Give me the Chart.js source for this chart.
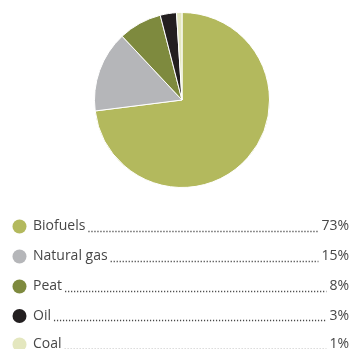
<!DOCTYPE html>
<html>
<head>
<meta charset="utf-8">
<script src="https://cdn.jsdelivr.net/npm/chart.js@4"></script>
<style>
  html, body { margin: 0; padding: 0; background: #fff; }
  #wrap { width: 350px; height: 349px; }
</style>
</head>
<body>
<div id="wrap"><canvas id="fuelChart" width="350" height="349"></canvas></div>
<script>
const labels = ['Biofuels', 'Natural gas', 'Peat', 'Oil', 'Coal'];
const shares = [73, 15, 8, 3, 1];
const colors = ['#b3b95d', '#b5b6b9', '#7e8a3e', '#231f20', '#e4e7bf'];

// list under the pie: dot, name, dotted leader, percentage
const listLegend = {
    id: 'listLegend',
    afterDraw(chart) {
        const ctx = chart.ctx;
        const rowY = [226.5, 256.5, 286.5, 316, 344.5];
        ctx.save();
        ctx.font = "14px 'Open Sans', sans-serif";
        ctx.textBaseline = 'middle';
        labels.forEach((name, i) => {
            const y = rowY[i];
            ctx.beginPath();
            ctx.arc(19.5, y, 7, 0, Math.PI * 2);
            ctx.fillStyle = colors[i];
            ctx.fill();

            ctx.fillStyle = '#474747';
            ctx.textAlign = 'left';
            ctx.fillText(name, 33, y);
            const nameEnd = 33 + ctx.measureText(name).width + 3;

            const pct = shares[i] + '%';
            ctx.textAlign = 'right';
            ctx.fillText(pct, 349, y);
            const pctStart = 349 - ctx.measureText(pct).width - 3;

            ctx.strokeStyle = '#4a4a4a';
            ctx.lineWidth = 1.3;
            ctx.setLineDash([1.2, 1.8]);
            ctx.beginPath();
            ctx.moveTo(nameEnd, Math.round(y) + 4.5);
            ctx.lineTo(pctStart, Math.round(y) + 4.5);
            ctx.stroke();
            ctx.setLineDash([]);
        });
        ctx.restore();
    }
};

new Chart(document.getElementById('fuelChart'), {
    type: 'pie',
    data: {
        labels,
        datasets: [{
            data: shares,
            backgroundColor: colors,
            borderColor: '#ffffff',
            borderWidth: 1,
        }],
    },
    options: {
        responsive: false,
        animation: false,
        layout: { padding: { left: 94, right: 80, top: 12, bottom: 161 } },
        plugins: {
            legend: { display: false },
            tooltip: { enabled: false },
        },
    },
    plugins: [listLegend],
});
</script>
</body>
</html>
